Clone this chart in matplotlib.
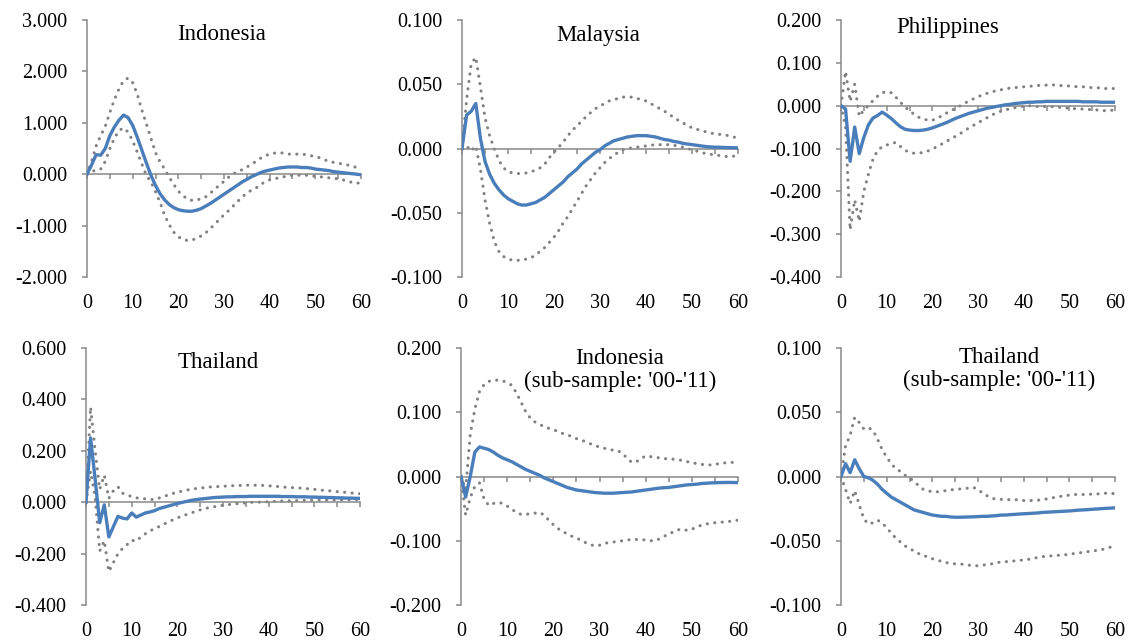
import matplotlib
matplotlib.use("Agg")
import matplotlib.pyplot as plt
from matplotlib.ticker import FuncFormatter, MultipleLocator

plt.rcParams['font.family'] = ['Liberation Serif', 'DejaVu Serif']

horizon = list(range(61))

# ---------------- Indonesia ----------------
idn_mid = [0, 0.18, 0.38, 0.37, 0.50, 0.75, 0.92, 1.05, 1.15, 1.10, 0.95, 0.72, 0.47, 0.22, -0.02,
           -0.22, -0.38, -0.50, -0.59, -0.65, -0.69, -0.71, -0.72, -0.72, -0.70, -0.67, -0.62, -0.57,
           -0.51, -0.45, -0.39, -0.33, -0.27, -0.21, -0.15, -0.10, -0.05, -0.01, 0.03, 0.06, 0.08,
           0.10, 0.12, 0.13, 0.14, 0.14, 0.14, 0.13, 0.13, 0.12, 0.10, 0.09, 0.08, 0.07, 0.05, 0.04,
           0.03, 0.02, 0.01, 0.00, -0.01]
idn_up = [0, 0.25, 0.55, 0.75, 0.93, 1.20, 1.45, 1.66, 1.82, 1.87, 1.78, 1.56, 1.25, 0.98, 0.70,
          0.42, 0.24, 0.10, -0.06, -0.20, -0.33, -0.42, -0.48, -0.51, -0.50, -0.48, -0.44, -0.37,
          -0.29, -0.21, -0.14, -0.06, 0.01, 0.04, 0.09, 0.14, 0.19, 0.25, 0.31, 0.36, 0.39, 0.41,
          0.42, 0.41, 0.39, 0.39, 0.39, 0.39, 0.38, 0.36, 0.34, 0.32, 0.28, 0.25, 0.23, 0.21, 0.20,
          0.18, 0.16, 0.13, 0.10]
idn_lo = [0, 0.05, 0.08, 0.10, 0.25, 0.50, 0.70, 0.85, 0.90, 0.82, 0.65, 0.43, 0.20, -0.02, -0.15,
          -0.34, -0.55, -0.80, -0.98, -1.13, -1.22, -1.27, -1.29, -1.28, -1.25, -1.20, -1.14, -1.06,
          -0.97, -0.88, -0.79, -0.71, -0.62, -0.53, -0.44, -0.37, -0.31, -0.27, -0.20, -0.15, -0.11,
          -0.09, -0.07, -0.05, -0.04, -0.02, -0.02, -0.02, -0.02, -0.03, -0.04, -0.05, -0.06, -0.07,
          -0.08, -0.09, -0.11, -0.13, -0.16, -0.18, -0.16]

# ---------------- Malaysia ----------------
mys_mid = [0, 0.026, 0.029, 0.035, 0.008, -0.010, -0.020, -0.027, -0.032, -0.036, -0.039, -0.041,
           -0.043, -0.044, -0.044, -0.043, -0.042, -0.040, -0.038, -0.035, -0.032, -0.029, -0.026,
           -0.022, -0.019, -0.016, -0.012, -0.009, -0.006, -0.003, -0.001, 0.002, 0.004, 0.006,
           0.007, 0.008, 0.009, 0.0095, 0.010, 0.010, 0.010, 0.0095, 0.009, 0.008, 0.007, 0.0065,
           0.0055, 0.005, 0.004, 0.0035, 0.003, 0.0025, 0.002, 0.0015, 0.0012, 0.001, 0.001, 0.0008,
           0.0007, 0.0006, 0.0005]
mys_up = [0, 0.038, 0.066, 0.071, 0.048, 0.024, 0.010, 0.000, -0.009, -0.015, -0.018, -0.019,
          -0.0195, -0.0195, -0.019, -0.018, -0.017, -0.015, -0.012, -0.007, -0.003, 0.001, 0.005,
          0.010, 0.014, 0.018, 0.021, 0.025, 0.028, 0.031, 0.033, 0.035, 0.037, 0.038, 0.039, 0.040,
          0.040, 0.040, 0.039, 0.038, 0.037, 0.035, 0.033, 0.031, 0.029, 0.027, 0.024, 0.022, 0.020,
          0.018, 0.016, 0.015, 0.014, 0.013, 0.012, 0.0115, 0.011, 0.0105, 0.010, 0.009, 0.008]
mys_lo = [0, 0.002, -0.002, 0.002, -0.016, -0.040, -0.058, -0.072, -0.080, -0.084, -0.086, -0.087,
          -0.087, -0.087, -0.086, -0.085, -0.083, -0.080, -0.077, -0.073, -0.069, -0.064, -0.058,
          -0.053, -0.047, -0.041, -0.035, -0.029, -0.024, -0.019, -0.015, -0.011, -0.008, -0.005,
          -0.003, -0.001, 0.000, 0.0005, 0.001, 0.0015, 0.002, 0.0025, 0.003, 0.003, 0.003, 0.003,
          0.0025, 0.002, 0.001, 0.000, -0.001, -0.002, -0.003, -0.004, -0.0045, -0.005, -0.0055,
          -0.006, -0.0065, -0.006, -0.005]

# ---------------- Philippines ----------------
phl_mid = [0, -0.008, -0.130, -0.050, -0.112, -0.074, -0.045, -0.029, -0.023, -0.015, -0.022,
           -0.030, -0.040, -0.049, -0.055, -0.057, -0.058, -0.058, -0.057, -0.055, -0.052, -0.048,
           -0.044, -0.040, -0.035, -0.030, -0.026, -0.022, -0.018, -0.015, -0.012, -0.009, -0.006,
           -0.004, -0.002, 0.000, 0.002, 0.003, 0.005, 0.006, 0.007, 0.008, 0.008, 0.009, 0.009,
           0.010, 0.010, 0.010, 0.010, 0.010, 0.010, 0.010, 0.010, 0.009, 0.009, 0.009, 0.009,
           0.008, 0.008, 0.008, 0.008]
phl_up = [0, 0.080, 0.010, 0.050, -0.025, -0.010, 0.000, 0.012, 0.022, 0.030, 0.033, 0.030, 0.020,
          0.008, -0.003, -0.012, -0.020, -0.027, -0.031, -0.034, -0.034, -0.030, -0.024, -0.018,
          -0.012, -0.007, -0.001, 0.005, 0.011, 0.016, 0.021, 0.025, 0.029, 0.032, 0.035, 0.037,
          0.039, 0.041, 0.042, 0.043, 0.044, 0.045, 0.046, 0.047, 0.048, 0.048, 0.049, 0.048, 0.047,
          0.046, 0.046, 0.045, 0.044, 0.044, 0.043, 0.042, 0.042, 0.041, 0.040, 0.040, 0.040]
phl_lo = [0, -0.050, -0.290, -0.220, -0.270, -0.200, -0.160, -0.125, -0.105, -0.096, -0.092,
          -0.088, -0.086, -0.095, -0.104, -0.109, -0.111, -0.111, -0.109, -0.106, -0.101, -0.096,
          -0.090, -0.084, -0.078, -0.072, -0.066, -0.059, -0.052, -0.046, -0.040, -0.034, -0.028,
          -0.022, -0.017, -0.013, -0.010, -0.007, -0.005, -0.003, -0.001, 0.000, -0.001, -0.002,
          -0.002, -0.002, -0.002, -0.003, -0.004, -0.005, -0.006, -0.007, -0.007, -0.008, -0.009,
          -0.009, -0.010, -0.011, -0.012, -0.011, -0.010]

# ---------------- Thailand ----------------
tha_mid = [0, 0.250, 0.090, -0.080, -0.010, -0.135, -0.095, -0.055, -0.062, -0.065, -0.042, -0.058,
           -0.050, -0.042, -0.038, -0.033, -0.025, -0.020, -0.015, -0.010, -0.005, -0.001, 0.003,
           0.007, 0.010, 0.012, 0.014, 0.016, 0.018, 0.019, 0.020, 0.021, 0.021, 0.022, 0.022,
           0.022, 0.023, 0.023, 0.023, 0.023, 0.023, 0.023, 0.023, 0.022, 0.022, 0.022, 0.021,
           0.021, 0.021, 0.020, 0.020, 0.019, 0.019, 0.018, 0.018, 0.017, 0.017, 0.016, 0.016,
           0.015, 0.015]
tha_up = [0, 0.370, 0.200, 0.050, 0.105, 0.015, 0.045, 0.060, 0.035, 0.028, 0.022, 0.017, 0.015,
          0.013, 0.011, 0.010, 0.016, 0.022, 0.028, 0.034, 0.039, 0.043, 0.047, 0.050, 0.053, 0.055,
          0.057, 0.059, 0.060, 0.061, 0.062, 0.063, 0.064, 0.065, 0.065, 0.066, 0.066, 0.066, 0.066,
          0.065, 0.064, 0.062, 0.061, 0.059, 0.058, 0.057, 0.056, 0.055, 0.053, 0.052, 0.050, 0.048,
          0.046, 0.045, 0.043, 0.041, 0.040, 0.038, 0.036, 0.034, 0.033]
tha_lo = [0, 0.120, 0.020, -0.190, -0.150, -0.270, -0.235, -0.200, -0.180, -0.165, -0.148, -0.152,
          -0.135, -0.123, -0.112, -0.103, -0.095, -0.086, -0.077, -0.069, -0.061, -0.054, -0.048,
          -0.042, -0.036, -0.030, -0.025, -0.021, -0.018, -0.015, -0.012, -0.010, -0.008, -0.006,
          -0.004, -0.003, -0.001, 0.000, 0.000, 0.001, 0.002, 0.003, 0.004, 0.005, 0.005, 0.006,
          0.006, 0.007, 0.007, 0.008, 0.008, 0.008, 0.008, 0.009, 0.009, 0.009, 0.009, 0.010,
          0.010, 0.010, 0.010]

# ---------------- Indonesia (sub-sample) ----------------
idn2_mid = [0, -0.032, 0.000, 0.038, 0.046, 0.044, 0.042, 0.038, 0.033, 0.029, 0.026, 0.023, 0.019,
            0.015, 0.011, 0.008, 0.005, 0.002, -0.002, -0.005, -0.008, -0.011, -0.014, -0.017,
            -0.019, -0.021, -0.022, -0.023, -0.024, -0.025, -0.0255, -0.026, -0.026, -0.026,
            -0.0255, -0.025, -0.0245, -0.024, -0.023, -0.022, -0.021, -0.020, -0.019, -0.018,
            -0.0175, -0.017, -0.016, -0.015, -0.014, -0.013, -0.0125, -0.012, -0.011, -0.0105,
            -0.010, -0.0098, -0.0095, -0.0093, -0.0092, -0.0093, -0.0095]
idn2_up = [0, -0.020, 0.065, 0.105, 0.132, 0.143, 0.148, 0.150, 0.150, 0.149, 0.146, 0.142, 0.130,
           0.116, 0.101, 0.091, 0.085, 0.081, 0.078, 0.075, 0.073, 0.070, 0.067, 0.065, 0.062, 0.059,
           0.057, 0.054, 0.051, 0.048, 0.046, 0.044, 0.042, 0.041, 0.040, 0.036, 0.028, 0.022, 0.023,
           0.028, 0.032, 0.031, 0.030, 0.029, 0.028, 0.027, 0.027, 0.026, 0.025, 0.023, 0.022, 0.020,
           0.019, 0.018, 0.018, 0.019, 0.020, 0.021, 0.022, 0.022, 0.023]
idn2_lo = [0, -0.060, -0.033, -0.015, -0.010, -0.035, -0.045, -0.042, -0.040, -0.042, -0.046,
           -0.051, -0.056, -0.059, -0.059, -0.058, -0.057, -0.056, -0.060, -0.068, -0.075, -0.081,
           -0.086, -0.089, -0.093, -0.096, -0.099, -0.103, -0.106, -0.108, -0.107, -0.104, -0.103,
           -0.102, -0.101, -0.100, -0.099, -0.098, -0.098, -0.098, -0.099, -0.100, -0.100, -0.097,
           -0.093, -0.090, -0.086, -0.083, -0.082, -0.084, -0.082, -0.079, -0.076, -0.074, -0.073,
           -0.072, -0.071, -0.071, -0.070, -0.069, -0.068]

# ---------------- Thailand (sub-sample) ----------------
tha2_mid = [0, 0.010, 0.003, 0.013, 0.006, 0.000, -0.001, -0.003, -0.006, -0.010, -0.013, -0.016,
            -0.018, -0.020, -0.022, -0.024, -0.026, -0.027, -0.028, -0.029, -0.030, -0.0305, -0.031,
            -0.031, -0.0315, -0.0317, -0.0317, -0.0316, -0.0315, -0.0314, -0.0312, -0.031, -0.031,
            -0.0307, -0.0305, -0.030, -0.030, -0.0297, -0.0295, -0.0292, -0.029, -0.0288, -0.0286,
            -0.0284, -0.028, -0.0278, -0.0276, -0.0274, -0.0272, -0.027, -0.0268, -0.0265, -0.0262,
            -0.026, -0.0258, -0.0255, -0.0253, -0.025, -0.0248, -0.0246, -0.0244]
tha2_up = [0, 0.024, 0.032, 0.046, 0.042, 0.037, 0.038, 0.036, 0.029, 0.021, 0.015, 0.010, 0.006,
           0.004, 0.001, -0.001, -0.004, -0.007, -0.010, -0.011, -0.012, -0.012, -0.0115, -0.011,
           -0.0105, -0.010, -0.0097, -0.0094, -0.009, -0.0085, -0.010, -0.013, -0.015, -0.017,
           -0.0175, -0.0178, -0.018, -0.018, -0.018, -0.0183, -0.0187, -0.0188, -0.0187, -0.0185,
           -0.018, -0.0175, -0.017, -0.016, -0.0155, -0.015, -0.0145, -0.014, -0.014, -0.014,
           -0.0138, -0.0138, -0.0136, -0.0134, -0.013, -0.013, -0.0135]
tha2_lo = [0, -0.010, -0.021, -0.011, -0.022, -0.033, -0.037, -0.036, -0.034, -0.036, -0.040,
           -0.044, -0.048, -0.051, -0.054, -0.056, -0.058, -0.060, -0.061, -0.063, -0.064, -0.065,
           -0.066, -0.067, -0.0675, -0.068, -0.068, -0.0685, -0.069, -0.0695, -0.0695, -0.069,
           -0.0685, -0.068, -0.067, -0.0667, -0.0663, -0.066, -0.0657, -0.0653, -0.065, -0.0645,
           -0.064, -0.063, -0.0625, -0.062, -0.0618, -0.0615, -0.0612, -0.061, -0.0605, -0.060,
           -0.0595, -0.059, -0.0585, -0.058, -0.0575, -0.057, -0.056, -0.055, -0.054]

titles = ["Indonesia", "Malaysia", "Philippines", "Thailand",
          "Indonesia\n(sub-sample: '00-'11)", "Thailand\n(sub-sample: '00-'11)"]
y_limits = [(-2.0, 3.0), (-0.1, 0.1), (-0.4, 0.2), (-0.4, 0.6), (-0.2, 0.2), (-0.1, 0.1)]
y_steps = [1.0, 0.05, 0.1, 0.2, 0.1, 0.05]
x_ticks_minor = list(range(0, 61, 5))
x_tick_labels = list(range(0, 61, 10))

series = [(idn_mid, idn_up, idn_lo), (mys_mid, mys_up, mys_lo), (phl_mid, phl_up, phl_lo),
          (tha_mid, tha_up, tha_lo), (idn2_mid, idn2_up, idn2_lo), (tha2_mid, tha2_up, tha2_lo)]

W, H = 1134, 644
# axes boxes in pixels: left, right, top, bottom
boxes = [(87, 361, 20, 277), (462, 738, 20, 277), (841, 1115, 20, 277),
         (86, 360, 348, 605), (461, 738, 348, 605), (841, 1115, 348, 605)]
title_pos = [(222, 35), (598, 35), (948, 27), (218, 363), (620, 370), (999, 369)]

axis_col = '#898989'
blue = '#4A7EBB'
grey = '#808080'

fig = plt.figure(figsize=(W / 100, H / 100), dpi=100)

for i in range(6):
    l, r, t, b = boxes[i]
    ax = fig.add_axes([l / W, 1 - b / H, (r - l) / W, (b - t) / H])
    mid, up, lo = series[i]
    for band in (up, lo):
        ax.plot(horizon, band, color=grey, lw=2.2, linestyle=(0, (0.05, 2.4)),
                dash_capstyle='round', zorder=2)
    ax.plot(horizon, mid, color=blue, lw=2.4, solid_joinstyle='round', zorder=3)

    ax.set_xlim(0, 60)
    ax.set_ylim(*y_limits[i])
    ax.yaxis.set_major_locator(MultipleLocator(y_steps[i]))
    ax.yaxis.set_major_formatter(FuncFormatter(lambda v, p: f"{v:.3f}"))
    for s in ['top', 'right']:
        ax.spines[s].set_visible(False)
    ax.spines['left'].set_color(axis_col)
    ax.spines['left'].set_linewidth(1.1)
    ax.spines['bottom'].set_position(('data', 0))
    ax.spines['bottom'].set_color(axis_col)
    ax.spines['bottom'].set_linewidth(1.1)
    ax.set_xticks(x_ticks_minor)
    ax.tick_params(axis='x', direction='out', length=3.8, width=1.1, color=axis_col,
                   labelbottom=False)
    ax.tick_params(axis='y', direction='out', length=3.8, width=1.1, color=axis_col,
                   labelsize=14.5, pad=10.5)
    ax.set_facecolor('none')

    sec = ax.secondary_xaxis(0)
    sec.spines['bottom'].set_visible(False)
    sec.set_xticks(x_tick_labels)
    sec.tick_params(axis='x', length=0, labelsize=14.5, pad=12)

    tx, ty = title_pos[i]
    fig.text(tx / W, 1 - ty / H, titles[i], ha='center', va='center', fontsize=16.5,
             linespacing=1.15)

fig.savefig('out.png', dpi=100)
